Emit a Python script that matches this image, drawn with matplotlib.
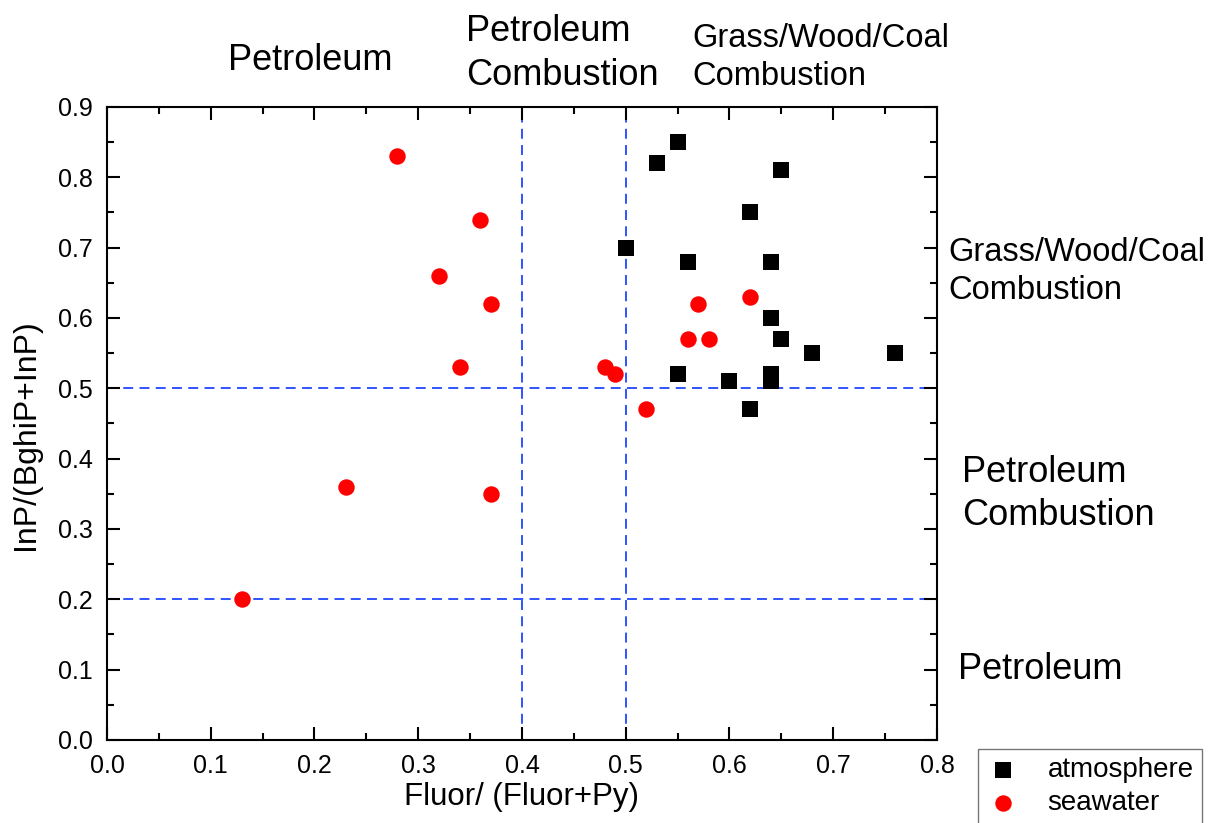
import matplotlib
matplotlib.use('Agg')
import matplotlib.pyplot as plt
from matplotlib.ticker import MultipleLocator, FormatStrFormatter

plt.rcParams['font.family'] = ['Liberation Sans', 'DejaVu Sans']

# atmosphere samples
atm_x = [0.55, 0.53, 0.65, 0.62, 0.50, 0.56, 0.64, 0.64, 0.65, 0.68, 0.76, 0.55, 0.60, 0.64, 0.64, 0.62]
atm_y = [0.85, 0.82, 0.81, 0.75, 0.70, 0.68, 0.68, 0.60, 0.57, 0.55, 0.55, 0.52, 0.51, 0.52, 0.51, 0.47]

# seawater samples
sea_x = [0.28, 0.36, 0.32, 0.37, 0.34, 0.23, 0.37, 0.13, 0.48, 0.49, 0.52, 0.57, 0.62, 0.56, 0.58]
sea_y = [0.83, 0.74, 0.66, 0.62, 0.53, 0.36, 0.35, 0.20, 0.53, 0.52, 0.47, 0.62, 0.63, 0.57, 0.57]

# source boundaries
x_bounds = [0.4, 0.5]
y_bounds = [0.2, 0.5]

fig = plt.figure(figsize=(12.14, 8.23), dpi=100)
ax = fig.add_axes([0.0881, 0.1009, 0.6837, 0.7691])

for xv in x_bounds:
    ax.axvline(xv, color='#1f45ff', lw=1.3, dashes=(5.5, 3.5), zorder=1)
for yv in y_bounds:
    ax.axhline(yv, color='#1f45ff', lw=1.3, dashes=(5.5, 3.5), zorder=1)

ax.scatter(atm_x, atm_y, marker='s', s=125, color='black', linewidths=0, label='atmosphere', zorder=3)
ax.scatter(sea_x, sea_y, marker='o', s=140, color='red', linewidths=0, label='seawater', zorder=3)

ax.set_xlim(0, 0.8)
ax.set_ylim(0, 0.9)
ax.xaxis.set_major_locator(MultipleLocator(0.1))
ax.xaxis.set_minor_locator(MultipleLocator(0.05))
ax.yaxis.set_major_locator(MultipleLocator(0.1))
ax.yaxis.set_minor_locator(MultipleLocator(0.05))
ax.xaxis.set_major_formatter(FormatStrFormatter('%.1f'))
ax.yaxis.set_major_formatter(FormatStrFormatter('%.1f'))
ax.tick_params(which='both', direction='in', top=True, right=True, width=1.5, labelsize=18)
ax.tick_params(which='major', length=9.5, pad=10)
ax.tick_params(which='minor', length=5)
for sp in ax.spines.values():
    sp.set_linewidth(1.5)

ax.set_xlabel('Fluor/ (Fluor+Py)', fontsize=22.5, labelpad=3)
ax.set_ylabel('InP/(BghiP+InP)', fontsize=23)
ax.yaxis.set_label_coords(-0.079, 0.482)

# region labels
fig.text(0.2553, 0.926, 'Petroleum', fontsize=26, ha='center', va='center')
fig.text(0.3838, 0.935, 'Petroleum\nCombustion', fontsize=26, ha='left', va='center', linespacing=1.3)
fig.text(0.570, 0.930, 'Grass/Wood/Coal\nCombustion', fontsize=23.5, ha='left', va='center', linespacing=1.3)
fig.text(0.781, 0.670, 'Grass/Wood/Coal\nCombustion', fontsize=23.5, ha='left', va='center', linespacing=1.3)
fig.text(0.7924, 0.400, 'Petroleum\nCombustion', fontsize=26, ha='left', va='center', linespacing=1.3)
fig.text(0.789, 0.187, 'Petroleum', fontsize=26, ha='left', va='center')

fig.legend(loc='upper left', bbox_to_anchor=(0.8056, 0.0899), fontsize=20, frameon=True,
           fancybox=False, edgecolor='#555555', scatterpoints=1, handletextpad=1.0,
           borderpad=0.3, labelspacing=0.25, handlelength=1.2, borderaxespad=0)

fig.savefig('out.png', dpi=100)
